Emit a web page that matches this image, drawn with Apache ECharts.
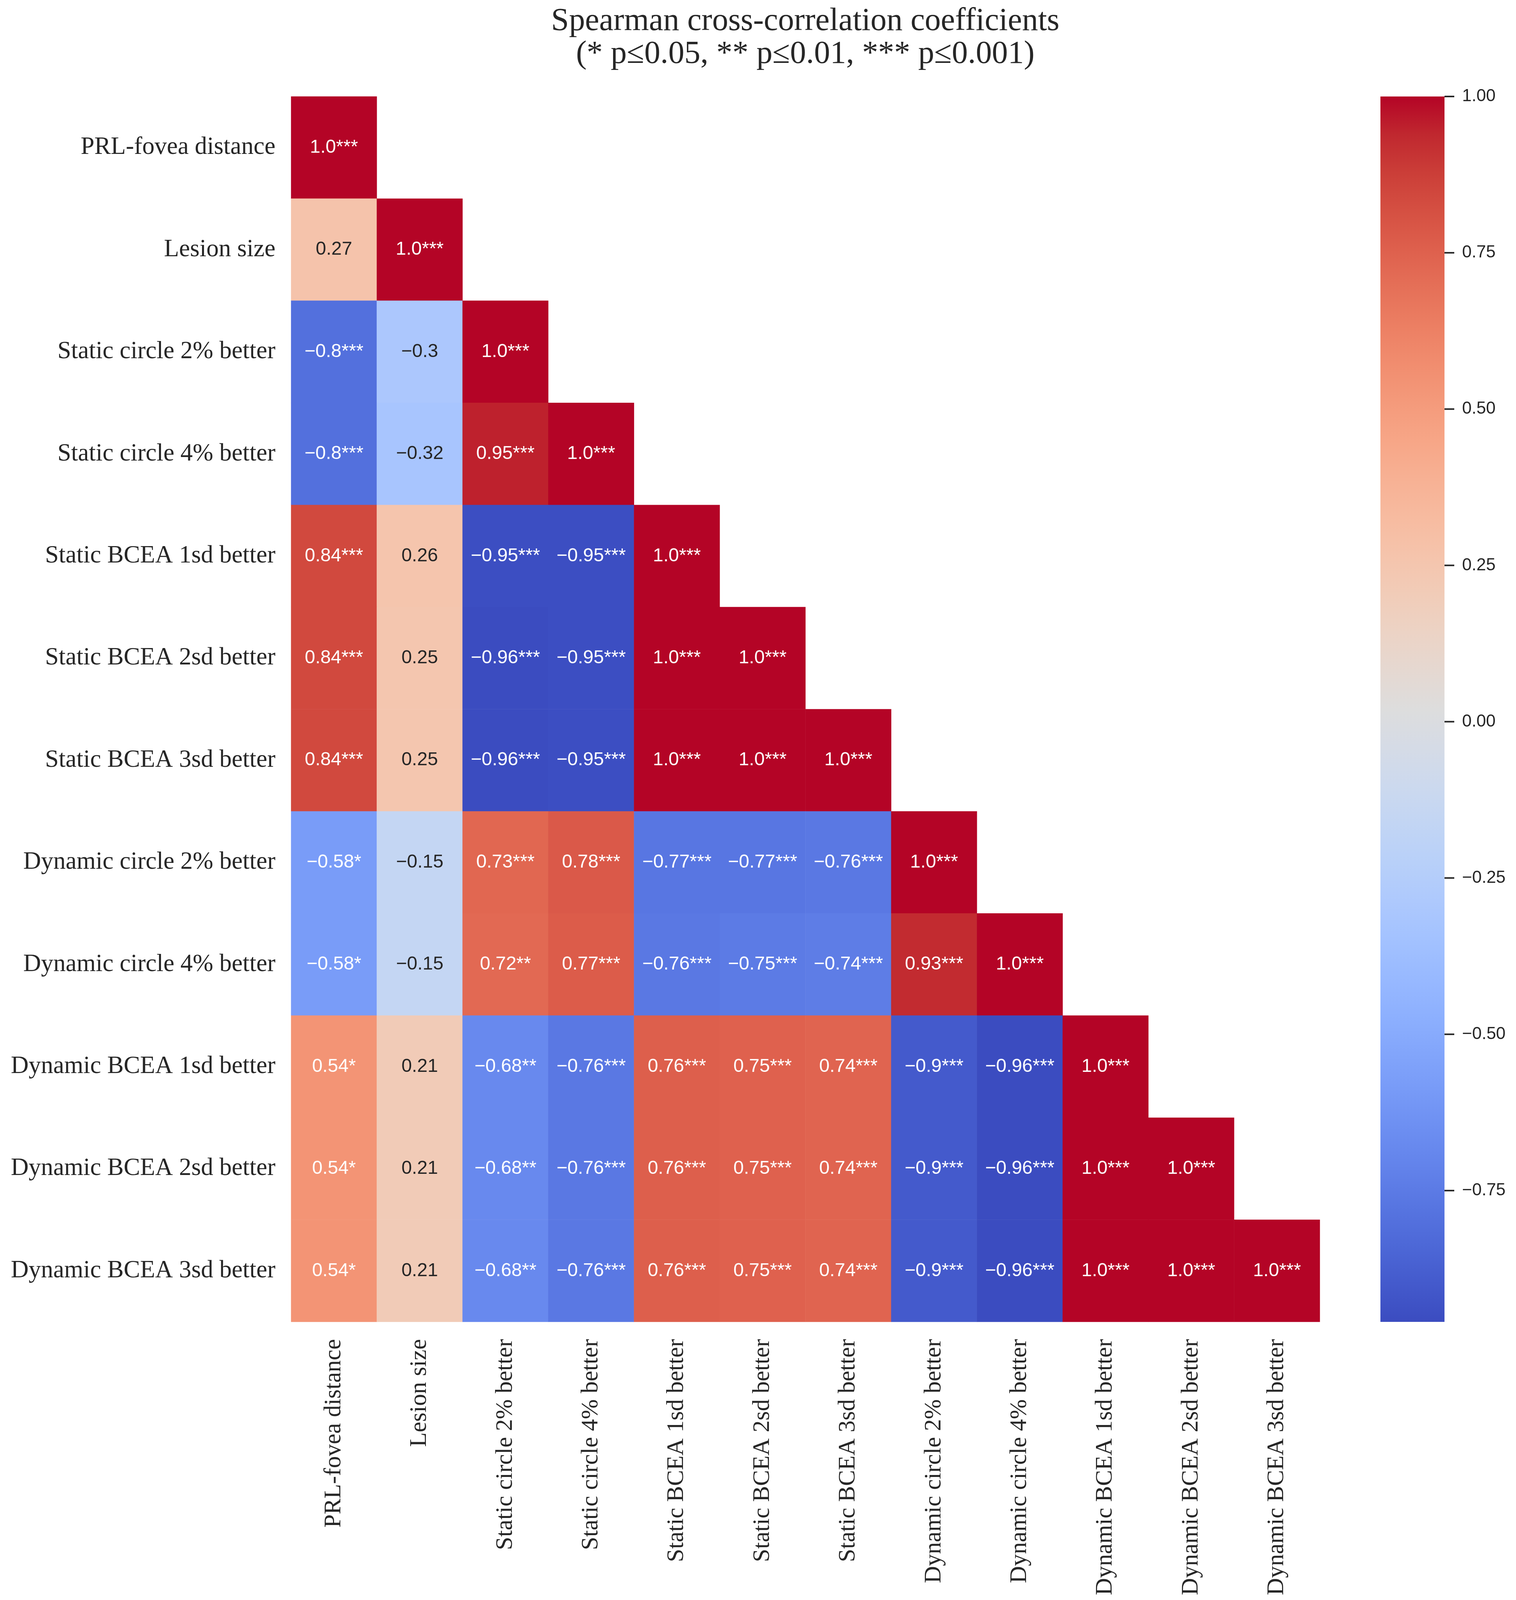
<!DOCTYPE html>
<html>
<head>
<meta charset="utf-8">
<script src="https://cdn.jsdelivr.net/npm/echarts@6/dist/echarts.min.js"></script>
<style>
html, body { margin: 0; padding: 0; background: #fff; overflow: hidden; }
#chart { width: 3880px; height: 4276px; }
</style>
</head>
<body>
<div id="chart"></div>
<script>
// Variables (same order for rows and columns)
const variables = [
    'PRL-fovea distance',
    'Lesion size',
    'Static circle 2% better',
    'Static circle 4% better',
    'Static BCEA 1sd better',
    'Static BCEA 2sd better',
    'Static BCEA 3sd better',
    'Dynamic circle 2% better',
    'Dynamic circle 4% better',
    'Dynamic BCEA 1sd better',
    'Dynamic BCEA 2sd better',
    'Dynamic BCEA 3sd better'
];

// Lower triangle (incl. diagonal), row by row
const corrRows = [
    [1.0],
    [0.27, 1.0],
    [-0.8, -0.3, 1.0],
    [-0.8, -0.32, 0.95, 1.0],
    [0.84, 0.26, -0.95, -0.95, 1.0],
    [0.84, 0.25, -0.96, -0.95, 1.0, 1.0],
    [0.84, 0.25, -0.96, -0.95, 1.0, 1.0, 1.0],
    [-0.58, -0.15, 0.73, 0.78, -0.77, -0.77, -0.76, 1.0],
    [-0.58, -0.15, 0.72, 0.77, -0.76, -0.75, -0.74, 0.93, 1.0],
    [0.54, 0.21, -0.68, -0.76, 0.76, 0.75, 0.74, -0.9, -0.96, 1.0],
    [0.54, 0.21, -0.68, -0.76, 0.76, 0.75, 0.74, -0.9, -0.96, 1.0, 1.0],
    [0.54, 0.21, -0.68, -0.76, 0.76, 0.75, 0.74, -0.9, -0.96, 1.0, 1.0, 1.0]
];

// significance marks, same layout as corrRows
const starRows = [
    ['***'],
    ['', '***'],
    ['***', '', '***'],
    ['***', '', '***', '***'],
    ['***', '', '***', '***', '***'],
    ['***', '', '***', '***', '***', '***'],
    ['***', '', '***', '***', '***', '***', '***'],
    ['*', '', '***', '***', '***', '***', '***', '***'],
    ['*', '', '**', '***', '***', '***', '***', '***', '***'],
    ['*', '', '**', '***', '***', '***', '***', '***', '***', '***'],
    ['*', '', '**', '***', '***', '***', '***', '***', '***', '***', '***'],
    ['*', '', '**', '***', '***', '***', '***', '***', '***', '***', '***', '***']
];

const cbarMin = -0.96;
const cbarMax = 1.0;
const cbarTicks = [-0.75, -0.5, -0.25, 0, 0.25, 0.5, 0.75, 1.0];

// coolwarm (Moreland) colour stops, low -> high
const coolwarm = [
    '#3b4cc0', '#445acc', '#4d68d7', '#5775e1', '#6282ea', '#6c8ef1', '#779af7', '#82a5fb',
    '#8db0fe', '#98b9ff', '#a3c2ff', '#aec9fd', '#b8d0f9', '#c2d5f4', '#ccd9ee', '#d5dbe6',
    '#dddddd', '#e5d8d1', '#ecd3c5', '#f1ccb8', '#f5c4ac', '#f7bba0', '#f7b194', '#f7a687',
    '#f49a7b', '#f18d6f', '#ec7f63', '#e57058', '#de604d', '#d55042', '#cb3e38', '#c0282f',
    '#b40426'
];

const TEXT_DARK = '#262626';
const SERIF = '"Liberation Serif", "DejaVu Serif", serif';
const SANS = '"Liberation Sans", Arial, sans-serif';

// the viewport can be shorter than the requested height -> squeeze y positions to fit
const W = 3880;
const H = Math.min(window.innerHeight || 4276, 4276);
const sy = H / 4276;
const Y = v => Math.round(v * sy);

const el = document.getElementById('chart');
el.style.width = W + 'px';
el.style.height = H + 'px';

function fmtNum(v) {
    const s = Number.isInteger(v) ? v.toFixed(1) : String(v);
    return s.replace('-', '\u2212');
}

const heatData = [];
corrRows.forEach((row, i) => {
    row.forEach((v, j) => {
        heatData.push({
            value: [j, i, v],
            stars: starRows[i][j],
            label: { color: Math.abs(v) < 0.5 ? TEXT_DARK : '#ffffff' }
        });
    });
});

const gradStops = coolwarm.map((c, i) => ({ offset: 1 - i / (coolwarm.length - 1), color: c })).reverse();

const chart = echarts.init(el);

const option = {
    backgroundColor: '#ffffff',
    animation: false,
    title: {
        text: 'Spearman cross-correlation coefficients\n(* p\u22640.05, ** p\u22640.01, *** p\u22640.001)',
        left: 2061,
        top: Y(57) - Y(44),
        textAlign: 'center',
        padding: 0,
        textStyle: {
            fontFamily: SERIF,
            fontSize: 82,
            fontWeight: 'normal',
            lineHeight: Y(88),
            color: TEXT_DARK
        }
    },
    grid: [
        { left: 745, top: Y(258), width: 2633, height: Y(3533) - Y(258), containLabel: false },
        { left: 3533, top: Y(258), width: 164, height: Y(3533) - Y(258), containLabel: false }
    ],
    xAxis: [
        {
            type: 'category',
            gridIndex: 0,
            data: variables,
            axisLine: { show: false },
            axisTick: { show: false },
            splitLine: { show: false },
            axisLabel: {
                rotate: 90,
                interval: 0,
                margin: Y(46),
                fontFamily: SERIF,
                fontSize: 61,
                color: TEXT_DARK
            }
        },
        {
            type: 'value',
            gridIndex: 1,
            min: 0,
            max: 1,
            show: false
        }
    ],
    yAxis: [
        {
            type: 'category',
            gridIndex: 0,
            data: variables,
            inverse: true,
            axisLine: { show: false },
            axisTick: { show: false },
            splitLine: { show: false },
            axisLabel: {
                interval: 0,
                margin: 40,
                fontFamily: SERIF,
                fontSize: 63,
                color: TEXT_DARK
            }
        },
        {
            type: 'value',
            gridIndex: 1,
            min: cbarMin,
            max: cbarMax,
            position: 'right',
            axisLine: { show: false },
            splitLine: { show: false },
            axisTick: { show: false },
            axisLabel: {
                customValues: cbarTicks,
                margin: 45,
                fontFamily: SANS,
                fontSize: 44,
                color: TEXT_DARK,
                formatter: v => v.toFixed(2).replace('-', '\u2212')
            }
        }
    ],
    visualMap: {
        type: 'continuous',
        show: false,
        seriesIndex: 0,
        dimension: 2,
        min: cbarMin,
        max: cbarMax,
        inRange: { color: coolwarm }
    },
    series: [
        {
            type: 'heatmap',
            xAxisIndex: 0,
            yAxisIndex: 0,
            data: heatData,
            itemStyle: { borderWidth: 0 },
            emphasis: { disabled: true },
            label: {
                show: true,
                fontFamily: SANS,
                fontSize: 48,
                formatter: p => fmtNum(p.value[2]) + p.data.stars
            }
        },
        {
            // colour bar, drawn on its own value axis
            type: 'custom',
            xAxisIndex: 1,
            yAxisIndex: 1,
            silent: true,
            data: [[0, cbarMin, cbarMax]],
            encode: { x: 0, y: [1, 2] },
            renderItem: (params, api) => {
                const p0 = api.coord([0, api.value(2)]);
                const p1 = api.coord([1, api.value(1)]);
                return {
                    type: 'rect',
                    shape: { x: p0[0], y: p0[1], width: p1[0] - p0[0], height: p1[1] - p0[1] },
                    style: { fill: new echarts.graphic.LinearGradient(0, 0, 0, 1, gradStops) }
                };
            }
        },
        {
            // colour bar tick marks (outside, on the right edge)
            type: 'custom',
            xAxisIndex: 1,
            yAxisIndex: 1,
            silent: true,
            clip: false,
            data: cbarTicks.map(v => [1, v]),
            encode: { x: 0, y: 1 },
            renderItem: (params, api) => {
                const p = api.coord([api.value(0), api.value(1)]);
                return {
                    type: 'line',
                    shape: { x1: p[0], y1: p[1], x2: p[0] + 25, y2: p[1] },
                    style: { stroke: TEXT_DARK, lineWidth: 4 }
                };
            }
        }
    ]
};

chart.setOption(option);
</script>
</body>
</html>
